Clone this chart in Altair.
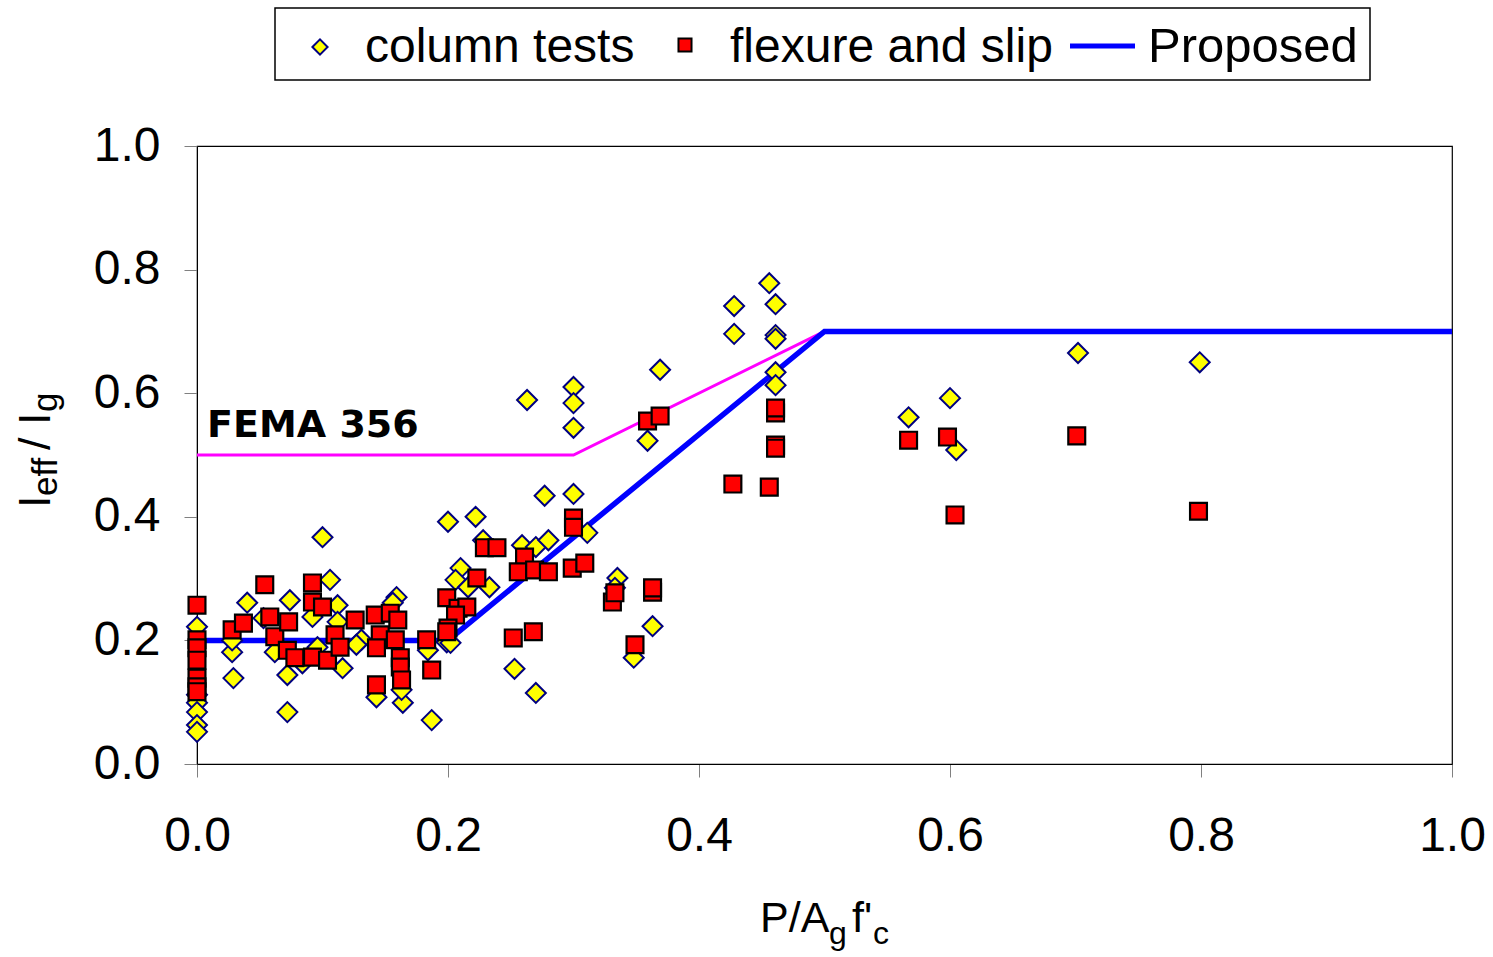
import altair as alt
import pandas as pd

# ---- data ----
col_x = [0, 0, 0, 0, 0, 0,
         0.029, 0.028, 0.028, 0.040, 0.053, 0.074, 0.092, 0.100, 0.106, 0.112, 0.112, 0.096, 0.084,
         0.062, 0.072, 0.072, 0.131, 0.116, 0.127, 0.159, 0.156, 0.143, 0.164, 0.163, 0.187, 0.184,
         0.200, 0.222, 0.210, 0.206, 0.216, 0.199, 0.202, 0.233, 0.228, 0.259, 0.270, 0.280, 0.277,
         0.263, 0.300, 0.300, 0.300, 0.300, 0.311, 0.335, 0.333, 0.363, 0.348, 0.253, 0.270,
         0.369, 0.359, 0.428, 0.428, 0.456, 0.461, 0.461, 0.461, 0.461, 0.461,
         0.567, 0.600, 0.605, 0.702, 0.799]
col_y = [0.222, 0.112, 0.099, 0.084, 0.063, 0.052,
         0.139, 0.181, 0.200, 0.261, 0.236, 0.265, 0.238, 0.367, 0.298, 0.257, 0.230, 0.189, 0.163,
         0.181, 0.144, 0.084, 0.201, 0.155, 0.193, 0.270, 0.261, 0.108, 0.099, 0.120, 0.071, 0.184,
         0.392, 0.400, 0.317, 0.298, 0.286, 0.197, 0.196, 0.286, 0.362, 0.354, 0.351, 0.362, 0.434,
         0.589, 0.610, 0.584, 0.544, 0.437, 0.374, 0.301, 0.285, 0.223, 0.172, 0.154, 0.115,
         0.638, 0.523, 0.741, 0.696, 0.778, 0.744, 0.694, 0.688, 0.634, 0.613,
         0.561, 0.592, 0.508, 0.665, 0.650]

flex_x = [0, 0, 0, 0, 0, 0, 0,
          0.028, 0.037, 0.054, 0.058, 0.062, 0.073, 0.072, 0.092, 0.092, 0.100, 0.078, 0.092, 0.104,
          0.126, 0.142, 0.154, 0.160, 0.110, 0.114, 0.146, 0.158, 0.143, 0.162, 0.162, 0.163, 0.143,
          0.183, 0.187, 0.199, 0.208, 0.215, 0.206, 0.200, 0.199, 0.223, 0.229, 0.239, 0.261, 0.256,
          0.269, 0.280, 0.299, 0.300, 0.300, 0.309, 0.252, 0.268, 0.331, 0.333, 0.363, 0.363, 0.349,
          0.359, 0.369, 0.461, 0.461, 0.461, 0.461, 0.427, 0.456,
          0.567, 0.598, 0.604, 0.701, 0.798]
flex_y = [0.257, 0.201, 0.188, 0.168, 0.139, 0.125, 0.117,
          0.217, 0.228, 0.290, 0.238, 0.206, 0.230, 0.184, 0.293, 0.262, 0.254, 0.172, 0.173, 0.168,
          0.233, 0.241, 0.244, 0.233, 0.209, 0.189, 0.209, 0.201, 0.188, 0.172, 0.157, 0.136, 0.128,
          0.201, 0.152, 0.269, 0.252, 0.254, 0.241, 0.220, 0.214, 0.301, 0.350, 0.350, 0.335, 0.311,
          0.314, 0.311, 0.317, 0.398, 0.383, 0.325, 0.204, 0.214, 0.262, 0.277, 0.278, 0.285, 0.193,
          0.555, 0.563, 0.568, 0.576, 0.516, 0.511, 0.453, 0.448,
          0.524, 0.529, 0.403, 0.531, 0.409]

prop_x = [0.0, 0.2, 0.5, 1.0]
prop_y = [0.2, 0.2, 0.7, 0.7]
fema_x = [0.0, 0.3, 0.5]
fema_y = [0.5, 0.5, 0.7]

tick_vals = [0.0, 0.2, 0.4, 0.6, 0.8, 1.0]
legend_labels = ["column tests", "flexure and slip", "Proposed"]
fema_label = "FEMA 356"

FONT = "Liberation Sans"

col_df = pd.DataFrame({"x": col_x, "y": col_y})
flex_df = pd.DataFrame({"x": flex_x, "y": flex_y})
prop_df = pd.DataFrame({"x": prop_x, "y": prop_y})
fema_df = pd.DataFrame({"x": fema_x, "y": fema_y})
ann_df = pd.DataFrame({"x": [0.008], "y": [0.529], "t": [fema_label]})

xs = alt.Scale(domain=[0, 1], nice=False)
ys = alt.Scale(domain=[0, 1], nice=False)

xaxis = alt.Axis(values=tick_vals, format=".1f", labelFontSize=48, labelFont=FONT,
                 labelColor="black", tickSize=13, tickColor="#808080", domainColor="black",
                 labelPadding=35, grid=False, labelFlush=False)
yaxis = alt.Axis(values=tick_vals, format=".1f", labelFontSize=48, labelFont=FONT,
                 labelColor="black", tickSize=13, tickColor="#808080", domainColor="black",
                 labelPadding=24, grid=False)

X = alt.X("x:Q", scale=xs, axis=xaxis, title=None)
Y = alt.Y("y:Q", scale=ys, axis=yaxis, title=None)

fema = alt.Chart(fema_df).mark_line(color="#FF00FF", strokeWidth=3).encode(x=X, y=Y)
prop = alt.Chart(prop_df).mark_line(color="#0000FF", strokeWidth=5.5).encode(x=X, y=Y)
diam = alt.Chart(col_df).mark_point(shape="diamond", filled=True, fill="#FFFF00", stroke="#000080",
                                    strokeWidth=2, size=400, opacity=1).encode(x=X, y=Y)
sq = alt.Chart(flex_df).mark_point(shape="square", filled=True, fill="#FF0000", stroke="black",
                                   strokeWidth=2.2, size=285, opacity=1).encode(x=X, y=Y)
ann = alt.Chart(ann_df).mark_text(font="DejaVu Sans", fontWeight="bold", fontSize=38,
                                  align="left", baseline="alphabetic", color="black").encode(
    x=X, y=Y, text="t:N")

one = alt.Data(values=[{"a": 1}])


def txt(s, x, y, size, angle=0, weight="normal", font=FONT):
    kw = dict(text=s, fontSize=size, font=font, align="left", baseline="alphabetic",
              color="black", fontWeight=weight)
    if angle:
        kw["angle"] = angle
    return alt.Chart(one).mark_text(**kw).encode(x=alt.value(x), y=alt.value(y))


# legend (coordinates relative to plot origin)
leg_box = alt.Chart(one).mark_rect(fill="white", stroke="black", strokeWidth=1.5).encode(
    x=alt.value(78), x2=alt.value(1173), y=alt.value(-138), y2=alt.value(-66))
leg_d = alt.Chart(one).mark_point(shape="diamond", filled=True, fill="#FFFF00", stroke="#000080",
                                  strokeWidth=2, size=230, opacity=1).encode(
    x=alt.value(123), y=alt.value(-99))
leg_s = alt.Chart(one).mark_point(shape="square", filled=True, fill="#FF0000", stroke="black",
                                  strokeWidth=2, size=170, opacity=1).encode(
    x=alt.value(488), y=alt.value(-101))
leg_l = alt.Chart(one).mark_rule(color="#0000FF", strokeWidth=5).encode(
    x=alt.value(873), x2=alt.value(938), y=alt.value(-100))
leg_t1 = txt(legend_labels[0], 168, -84, 48)
leg_t2 = txt(legend_labels[1], 533, -84, 48)
leg_t3 = txt(legend_labels[2], 951, -84, 49)

# x-axis title  P/A_g f'_c
xt = [txt("P/A", 563, 786, 43), txt("g", 632, 798, 32), txt("f'", 655, 786, 43), txt("c", 676, 798, 32)]
# y-axis title  I_eff / I_g (rotated)
yt = [txt("I", -147, 362, 45, 270), txt("eff", -140, 350, 35, 270),
      txt("/ I", -147, 304, 45, 270), txt("g", -140, 266, 35, 270)]

chart = alt.layer(fema, prop, diam, sq, ann, leg_box, leg_d, leg_s, leg_l, leg_t1, leg_t2, leg_t3,
                  *xt, *yt).properties(
    width=1255, height=618,
    autosize=alt.AutoSizeParams(type="none"),
    padding={"left": 197, "top": 146, "right": 41, "bottom": 193},
    background="white",
).configure_view(stroke="black", strokeWidth=1.2)

chart.save("out.html", embed_options={"renderer": "svg", "actions": False})
